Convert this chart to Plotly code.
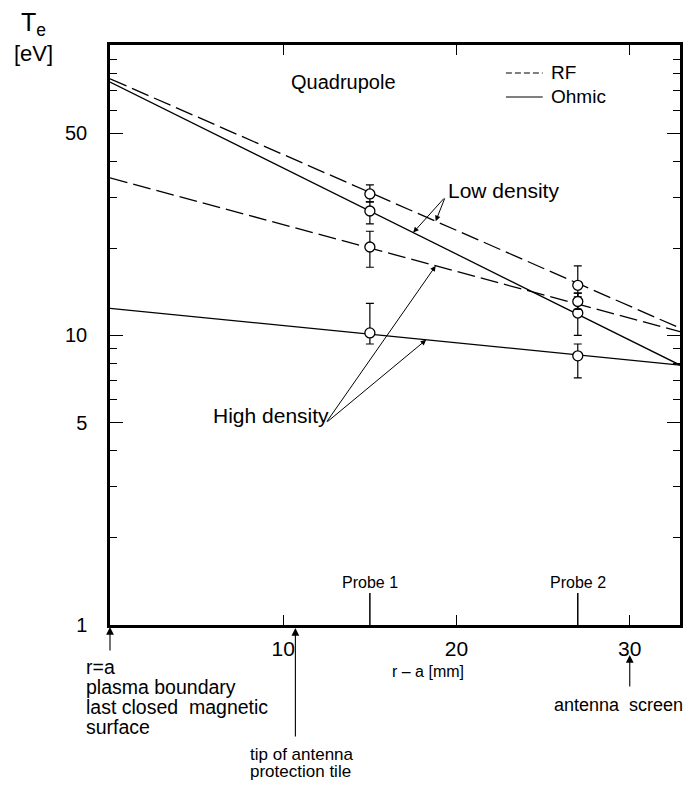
import numpy as np
import plotly.graph_objects as go

# ---------------- data ----------------
fit_x = [0, 32.9]
low_rf_fit = [77, 10.6]
low_ohm_fit = [75, 7.9]
high_rf_fit = [35, 10.3]
high_ohm_fit = [12.4, 7.9]

probe_x = [15, 27]
probe_names = ["Probe 1", "Probe 2"]
low_rf_T = [30.8, 14.9]
low_rf_hi = [33.1, 17.4]
low_rf_lo = [28.9, 13.6]
low_ohm_T = [26.9, 11.95]
low_ohm_hi = [28.9, 14.0]
low_ohm_lo = [24.3, 10.0]
high_rf_T = [20.2, 13.1]
high_rf_hi = [22.9, 14.0]
high_rf_lo = [17.2, 12.3]
high_ohm_T = [10.2, 8.5]
high_ohm_hi = [12.9, 9.34]
high_ohm_lo = [9.34, 7.13]

x_ticks = [10, 20, 30]
y_ticks = [1, 5, 10, 50]
y_minor = [2, 3, 4, 6, 7, 8, 9, 20, 30, 40, 60, 70, 80, 90]

legend_names = ["RF", "Ohmic"]

# positions of marked locations along r-a
x_boundary = 0
x_tile = 10.7
x_screen = 30

FONT = "Liberation Sans"
L, R, T, B = 110, 683, 45, 625
YTOP = 2.003


def pxx(xp):
    return (xp - L) / (R - L)


def pyy(yp):
    return (B - yp) / (B - T)


def on_fit(fit, x):
    """log10 value of a fit line at position x (straight line on log axis)."""
    l0, l1 = np.log10(fit[0]), np.log10(fit[1])
    return l0 + (l1 - l0) * (x - fit_x[0]) / (fit_x[1] - fit_x[0])


fig = go.Figure()

dash_style = "18px,6px"
lw = 1.3
for fit, dash in [(low_rf_fit, dash_style), (low_ohm_fit, "solid"),
                  (high_rf_fit, dash_style), (high_ohm_fit, "solid")]:
    fig.add_trace(go.Scatter(x=fit_x, y=fit, mode="lines",
                             line=dict(color="black", width=lw, dash=dash),
                             showlegend=False, hoverinfo="skip"))

for vals, hi, lo in [(low_rf_T, low_rf_hi, low_rf_lo),
                     (low_ohm_T, low_ohm_hi, low_ohm_lo),
                     (high_rf_T, high_rf_hi, high_rf_lo),
                     (high_ohm_T, high_ohm_hi, high_ohm_lo)]:
    fig.add_trace(go.Scatter(
        x=probe_x, y=vals, mode="markers",
        marker=dict(symbol="circle", size=10, color="white",
                    line=dict(color="black", width=1.3)),
        error_y=dict(type="data", symmetric=False,
                     array=[h - v for h, v in zip(hi, vals)],
                     arrayminus=[v - l for v, l in zip(vals, lo)],
                     color="black", thickness=1.2, width=4),
        showlegend=False))

ann = []
shapes = []


def text(t, x, y, size, xanchor="left", xref="paper", yref="paper"):
    ann.append(dict(text=t, x=x, y=y, xref=xref, yref=yref, showarrow=False,
                    xanchor=xanchor, yanchor="middle",
                    font=dict(family=FONT, size=size, color="black")))


text("T<sub>e</sub>", pxx(19), pyy(24), 25)
text("[eV]", pxx(11), pyy(54), 22)
text("Quadrupole", pxx(290), pyy(82), 20)
text("Low density", pxx(448), pyy(190), 21)
text("High density", pxx(212), pyy(415), 21)
for xv, nm in zip(probe_x, probe_names):
    text(nm, xv, pyy(582), 16, xanchor="center", xref="x")
text("r – a [mm]", pxx(430), pyy(671), 16, xanchor="center")

# manual legend
for i, (nm, dash) in enumerate(zip(legend_names, ["6px,3px", "solid"])):
    yl = 73 + i * 24
    shapes.append(dict(type="line", xref="paper", yref="paper",
                       x0=pxx(508), x1=pxx(545), y0=pyy(yl), y1=pyy(yl),
                       line=dict(color="black", width=1.2, dash=dash)))
    text(nm, pxx(551), pyy(yl - 1), 19)

bottom_lines = ["r=a", "plasma boundary", "last closed  magnetic", "surface"]
for i, s in enumerate(bottom_lines):
    text(s, pxx(84), pyy(667 + i * 20), 19.5)
text("tip of antenna", pxx(249), pyy(754), 17)
text("protection tile", pxx(249), pyy(772), 17)
text("antenna  screen", pxx(554), pyy(705), 18)


def arrow(x, y, ax, ay):
    ann.append(dict(text="", x=x, y=y, ax=ax, ay=ay, xref="x", yref="y",
                    axref="x", ayref="y", showarrow=True, arrowhead=2,
                    arrowsize=1.1, arrowwidth=1, arrowcolor="black", standoff=0))


# Low density arrows
tail_low = ((447 - L) / (R - L) * fit_x[1], (B - 197) / (B - T) * YTOP)
arrow(17.5, on_fit(low_ohm_fit, 17.5), tail_low[0], tail_low[1])
arrow(18.8, on_fit(low_rf_fit, 18.8), tail_low[0], tail_low[1])
# High density arrows
tail_high = ((327 - L) / (R - L) * fit_x[1], (B - 423) / (B - T) * YTOP)
arrow(18.8, on_fit(high_rf_fit, 18.8), tail_high[0], tail_high[1])
arrow(18.25, on_fit(high_ohm_fit, 18.25), tail_high[0], tail_high[1])

# bottom arrows (pixel offsets for tails)
for xv, head, tail in [(x_boundary, 627, 652), (x_tile, 628, 738), (x_screen, 655, 688)]:
    ann.append(dict(text="", x=xv, y=pyy(head), xref="x", yref="paper",
                    ax=0, ay=tail - head, showarrow=True, arrowhead=2,
                    arrowsize=1.4, arrowwidth=1.1, arrowcolor="black", standoff=0))

for xv in probe_x:
    shapes.append(dict(type="line", x0=xv, x1=xv, xref="x", yref="paper",
                       y0=0, y1=pyy(593), line=dict(color="black", width=1.5)))

fig.update_layout(
    width=694, height=790,
    margin=dict(l=L, r=694 - R, t=T, b=790 - B),
    paper_bgcolor="white", plot_bgcolor="white",
    font=dict(family=FONT, color="black"),
    annotations=ann, shapes=shapes,
    showlegend=False,
)
fig.update_xaxes(range=[0, fit_x[1]], tickvals=x_ticks, ticks="inside",
                 ticklen=10, tickwidth=1.2, tickcolor="black",
                 showline=True, linewidth=2.5, linecolor="black", mirror="ticks",
                 showgrid=False, zeroline=False,
                 tickfont=dict(size=21, family=FONT), ticklabelstandoff=3)
fig.update_yaxes(type="log", range=[0, YTOP], tickvals=y_ticks,
                 ticktext=[str(v) for v in y_ticks], ticks="inside",
                 ticklen=13, tickwidth=1.2, tickcolor="black",
                 minor=dict(tickvals=y_minor, ticks="inside", ticklen=7,
                            tickwidth=1.2, tickcolor="black", showgrid=False),
                 showline=True, linewidth=2.5, linecolor="black", mirror="ticks",
                 showgrid=False, zeroline=False,
                 tickfont=dict(size=20, family=FONT), ticklabelstandoff=16)

fig.write_html("out.html")
